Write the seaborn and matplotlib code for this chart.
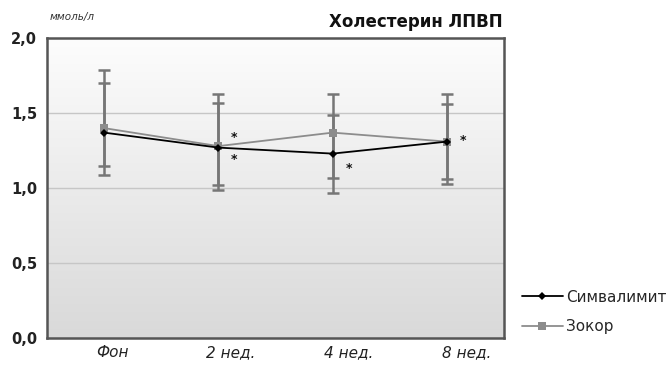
import numpy as np
import pandas as pd
import matplotlib
matplotlib.use("Agg")
import matplotlib.pyplot as plt
from matplotlib.lines import Line2D
import seaborn as sns

categories = ["Фон", "2 нед.", "4 нед.", "8 нед."]
simva_mean = [1.37, 1.27, 1.23, 1.31]
simva_upper = [1.70, 1.57, 1.49, 1.56]
simva_lower = [1.15, 1.02, 0.97, 1.06]
zocor_mean = [1.40, 1.28, 1.37, 1.31]
zocor_upper = [1.79, 1.63, 1.63, 1.63]
zocor_lower = [1.09, 0.99, 1.07, 1.03]
star_x = [1, 1, 2, 3]
star_y = [1.34, 1.19, 1.13, 1.32]
yticks = [0.0, 0.5, 1.0, 1.5, 2.0]
ytick_labels = ["0,0", "0,5", "1,0", "1,5", "2,0"]

sns.set_theme(style="white")
plt.rcParams["font.family"] = ["DejaVu Sans"]

fig = plt.figure(figsize=(6.72, 3.67), dpi=100)
ax = fig.add_axes([0.070, 0.079, 0.680, 0.817])

# gradient background
grad = np.linspace(0, 1, 256).reshape(-1, 1)
ax.imshow(grad, extent=[0, 1, 0, 1], transform=ax.transAxes, aspect="auto",
          cmap=matplotlib.colors.LinearSegmentedColormap.from_list("g", ["#d9d9d9", "#fdfdfd"]),
          origin="lower", zorder=0)

for v in [0.5, 1.0, 1.5]:
    ax.axhline(v, color="#c6c6c6", lw=1.0, zorder=1)

x = np.arange(len(categories))
df = pd.DataFrame({
    "x": np.concatenate([x, x]),
    "y": simva_mean + zocor_mean,
    "Препарат": ["Симвалимит"] * 4 + ["Зокор"] * 4,
})

# error bars
for mean, up, lo in [(zocor_mean, zocor_upper, zocor_lower), (simva_mean, simva_upper, simva_lower)]:
    m = np.array(mean)
    err = np.vstack([m - np.array(lo), np.array(up) - m])
    ax.errorbar(x, m, yerr=err, fmt="none", ecolor="#767676", elinewidth=1.8,
                capsize=4, capthick=1.8, zorder=3)

sns.lineplot(data=df[df["Препарат"] == "Зокор"], x="x", y="y", color="#8c8c8c",
             marker="s", markersize=6, markeredgewidth=0, lw=1.3, ax=ax, zorder=4)
sns.lineplot(data=df[df["Препарат"] == "Симвалимит"], x="x", y="y", color="#000000",
             marker="D", markersize=4.5, markeredgewidth=0, lw=1.3, ax=ax, zorder=5)

for sx, sy in zip(star_x, star_y):
    ax.text(sx + 0.14, sy, "*", ha="center", va="center", fontsize=9,
            fontweight="bold", color="#111111", zorder=6)

ax.set_xlim(-0.5, 3.5)
ax.set_ylim(0, 2.0)
# labels sit slightly right of the category centres in the original
label_shift = np.array([0.07, 0.105, 0.14, 0.175])
ax.set_xticks(x + label_shift)
ax.set_xticklabels(categories, style="italic", fontsize=11, color="#222222")
ax.set_yticks(yticks)
ax.set_yticklabels(ytick_labels, fontsize=10.5, fontweight="bold", color="#222222")
ax.tick_params(axis="x", length=0, pad=5)
ax.tick_params(axis="y", length=0, pad=7)
ax.set_xlabel("")
ax.set_ylabel("")
for s in ax.spines.values():
    s.set_color("#555555")
    s.set_linewidth(1.8)
    s.set_visible(True)

fig.text(50 / 672, 1 - 20 / 367, "ммоль/л", fontsize=7.5, style="italic", color="#333333",
         ha="left", va="baseline")
fig.text(503 / 672, 1 - 27 / 367, "Холестерин ЛПВП", fontsize=12, fontweight="bold",
         color="#111111", ha="right", va="baseline")

handles = [
    Line2D([0], [0], color="#000000", lw=1.3, marker="D", markersize=4.5, markeredgewidth=0),
    Line2D([0], [0], color="#8c8c8c", lw=1.3, marker="s", markersize=6, markeredgewidth=0),
]
fig.legend(handles, ["Симвалимит", "Зокор"], loc="upper left",
           bbox_to_anchor=(508 / 672, 1 - 276 / 367), frameon=False,
           handlelength=2.7, handletextpad=0.2, labelspacing=0.95,
           prop={"size": 11})

fig.savefig("out.png", dpi=100)
